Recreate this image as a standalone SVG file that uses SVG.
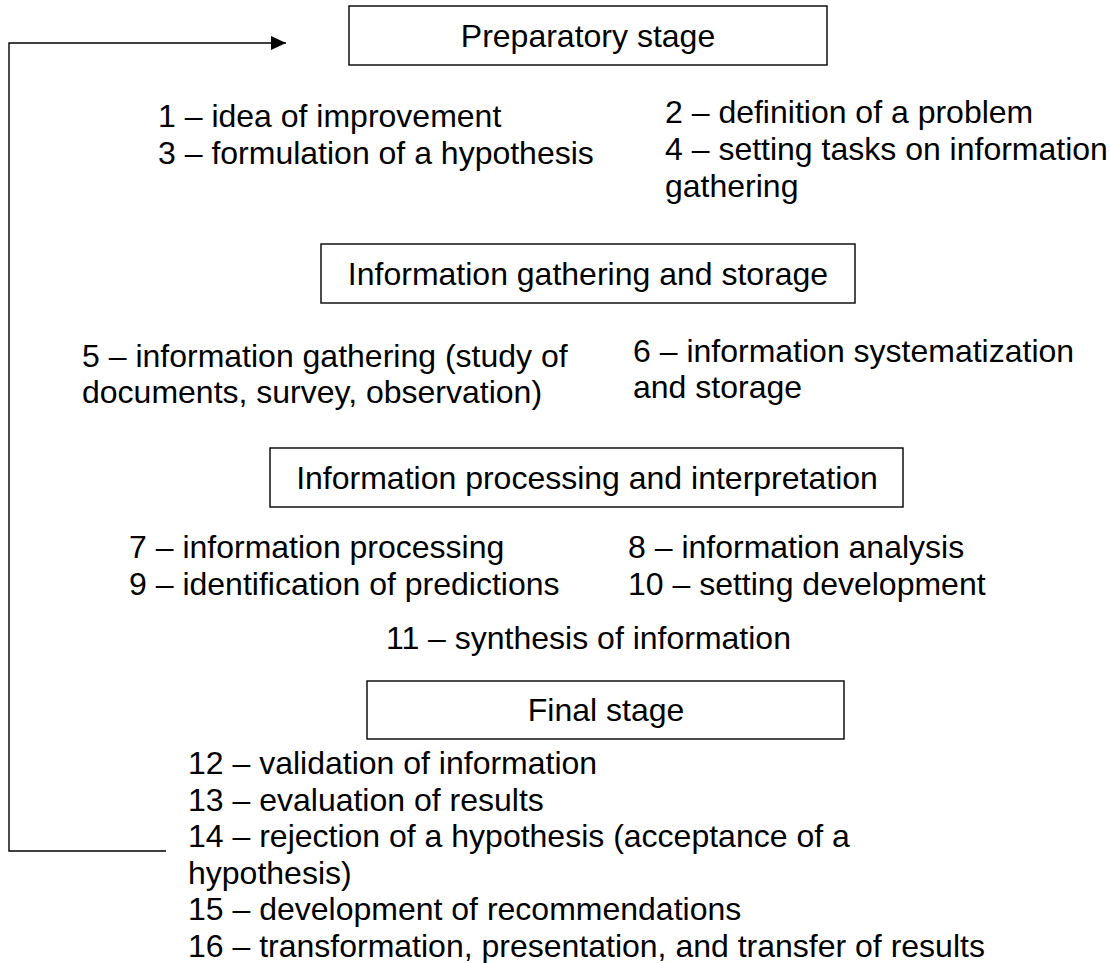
<svg xmlns="http://www.w3.org/2000/svg" width="1110" height="963" viewBox="0 0 1110 963">
<style>
text{font-family:"Liberation Sans",Arial,sans-serif;font-size:32px;fill:#000}
.box{fill:#fff;stroke:#000;stroke-width:1.4}
.c{text-anchor:middle}
.line{fill:none;stroke:#000;stroke-width:1.4}
</style>
<defs>
<marker id="arr" markerUnits="userSpaceOnUse" markerWidth="16" markerHeight="16" refX="15" refY="8" orient="auto">
<path d="M0,1 L15,8 L0,15 Z" fill="#000"/>
</marker>
</defs>
<rect width="1110" height="963" fill="#fff"/>
<g id="connectors">
<path class="line" d="M166,851 H9 V43 H286" marker-end="url(#arr)"/>
</g>
<g id="stage1">
<rect class="box" x="349" y="6" width="478" height="59"/>
<text class="c" x="588" y="47">Preparatory stage</text>
</g>
<g id="items1">
<text x="158" y="127">1 – idea of improvement</text>
<text x="158" y="164">3 – formulation of a hypothesis</text>
<text x="665" y="123">2 – definition of a problem</text>
<text x="665" y="160">4 – setting tasks on information</text>
<text x="665" y="197">gathering</text>
</g>
<g id="stage2">
<rect class="box" x="321" y="244" width="534" height="59"/>
<text class="c" x="588" y="285">Information gathering and storage</text>
</g>
<g id="items2">
<text x="82" y="367">5 – information gathering (study of</text>
<text x="82" y="403">documents, survey, observation)</text>
<text x="633" y="362">6 – information systematization</text>
<text x="633" y="398">and storage</text>
</g>
<g id="stage3">
<rect class="box" x="270" y="448" width="633" height="59"/>
<text class="c" x="587" y="489">Information processing and interpretation</text>
</g>
<g id="items3">
<text x="129" y="558">7 – information processing</text>
<text x="129" y="595">9 – identification of predictions</text>
<text x="628" y="558">8 – information analysis</text>
<text x="628" y="595">10 – setting development</text>
<text x="386" y="649">11 – synthesis of information</text>
</g>
<g id="stage4">
<rect class="box" x="367" y="681" width="477" height="58"/>
<text class="c" x="606" y="721">Final stage</text>
</g>
<g id="items4">
<text x="188" y="774">12 – validation of information</text>
<text x="188" y="810.6">13 – evaluation of results</text>
<text x="188" y="847.2">14 – rejection of a hypothesis (acceptance of a</text>
<text x="188" y="883.8">hypothesis)</text>
<text x="188" y="920.4">15 – development of recommendations</text>
<text x="188" y="957">16 – transformation, presentation, and transfer of results</text>
</g>
</svg>
